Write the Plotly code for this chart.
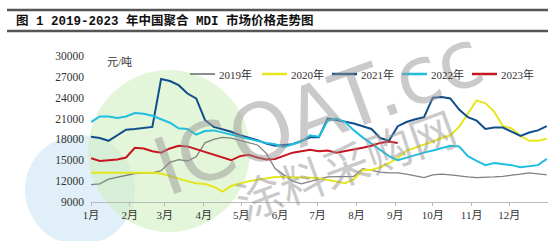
import plotly.graph_objects as go

days = list(range(0, 365, 7))  # day of year, weekly

y2019 = [11500, 11600, 12300, 12600, 12900, 13100, 13200, 13200, 13500, 14700,
         15100, 14900, 15500, 17500, 18000, 18300, 18200, 17900, 17600, 17200,
         16000, 13800, 12900, 12000, 11600, 12000, 12300, 12600, 12600, 12600,
         12700, 13800, 13500, 13300, 13200, 13200, 13000, 12700, 12500, 12900,
         13000, 12900, 12700, 12600, 12500, 12500, 12600, 12700, 12800, 13000,
         13200, 13000, 12900]
y2020 = [13200, 13200, 13200, 13200, 13200, 13200, 13300, 13200, 13100, 12700,
         12300, 12000, 11700, 11600, 11200, 10500, 11300, 11700, 12000, 12200,
         12400, 12600, 12600, 12600, 12500, 12500, 12400, 12200, 11900, 11700,
         12300, 13600, 13600, 14000, 14600, 15300, 16400, 16800, 17200, 17700,
         18200, 18600, 19800, 21800, 23600, 23200, 22000, 19900, 19600, 18500,
         17800, 17800, 18100]
y2021 = [18400, 18200, 17800, 18600, 19400, 19500, 19700, 19800, 26700, 26400,
         25800, 24600, 23900, 20800, 19800, 19500, 19100, 18600, 18300, 17900,
         17400, 17100, 17200, 17300, 17800, 18300, 18300, 21000, 20800, 20600,
         20300, 19900, 19500, 18200, 17800, 19900, 20500, 20900, 21200, 24000,
         24100, 23900, 22300, 21200, 20700, 19500, 19700, 19700, 19100, 18500,
         19000, 19300, 19900]
y2022 = [20500, 21300, 21300, 21100, 21300, 21800, 21700, 21400, 20900, 20400,
         19600, 19500, 18700, 19200, 19300, 19000, 18700, 18400, 18000, 17800,
         17500, 17300, 16900, 17300, 17700, 18600, 18400, 20700, 21000, 20500,
         19300, 18300, 17400, 16500, 15600, 15000, 15400, 15800, 16100, 16400,
         16700, 17100, 17000, 15600, 14900, 14300, 14600, 14500, 14300, 14000,
         14100, 14300, 15200]
y2023 = [15300, 14900, 15000, 15100, 15400, 16800, 16700, 16300, 16100, 16700,
         17100, 17000, 16600, 16200, 15700, 15300, 15000, 15600, 15800, 15400,
         15100, 15200, 15700, 16100, 16300, 16500, 16300, 16400, 16100, 16300,
         16500, 16800, 17100, 17500, 17700, 17500]

month_days = [0, 31, 59, 90, 120, 151, 181, 212, 243, 273, 304, 334]
month_labels = ["1月", "2月", "3月", "4月", "5月", "6月", "7月", "8月", "9月", "10月", "11月", "12月"]
y_ticks = [9000, 12000, 15000, 18000, 21000, 24000, 27000, 30000]
y_tick_labels = ["9000", "12000", "15000", "18000", "21000", "24000", "27000", "30000"]

series = [
    ("2019年", y2019, "#808080", 1.3),
    ("2020年", y2020, "#E6E61E", 2),
    ("2021年", y2021, "#104E8B", 2),
    ("2022年", y2022, "#20BFE0", 2),
    ("2023年", y2023, "#C8141E", 2),
]

fig = go.Figure()
for name, vals, color, w in series:
    fig.add_trace(go.Scatter(x=days[:len(vals)], y=vals, mode="lines", name=name,
                             line=dict(color=color, width=w), showlegend=False))

W, H = 555, 241
L, R, T, B = 91, 7, 56, 39
pw, ph = W - L - R, H - T - B


def px(x):
    return (x - L) / pw


def py(y):
    return (H - B - y) / ph


shapes = [
    dict(type="circle", xref="paper", yref="paper", layer="below",
         x0=px(25), x1=px(135), y0=py(245), y1=py(135),
         fillcolor="rgba(200,228,242,0.55)", line=dict(width=0)),
    dict(type="circle", xref="paper", yref="paper", layer="below",
         x0=px(88), x1=px(250), y0=py(232), y1=py(70),
         fillcolor="rgba(205,238,185,0.55)", line=dict(width=0)),
    dict(type="line", xref="paper", yref="paper", x0=px(7), x1=px(548),
         y0=py(10), y1=py(10), line=dict(color="#555555", width=2.5)),
    dict(type="line", xref="paper", yref="paper", x0=px(7), x1=px(548),
         y0=py(31), y1=py(31), line=dict(color="#555555", width=2.5)),
]

annotations = [
    dict(text="<b>图 1 2019-2023 年中国聚合 MDI 市场价格走势图</b>", xref="paper", yref="paper",
         x=px(14), y=py(21), xanchor="left", yanchor="middle", showarrow=False,
         font=dict(family="Liberation Mono, Noto Sans CJK SC", size=12.5, color="#111111")),
    dict(text="元/吨", xref="paper", yref="paper", x=px(105), y=py(62),
         xanchor="left", yanchor="middle", showarrow=False,
         font=dict(family="Liberation Serif, Noto Sans CJK SC", size=11, color="#333333")),
    dict(text="ICOAT.cc", xref="paper", yref="paper", x=px(318), y=py(112),
         xanchor="center", yanchor="middle", showarrow=False, textangle=-20,
         font=dict(family="DejaVu Sans", size=80, color="rgba(150,150,150,0.5)")),
    dict(text="涂料采购网", xref="paper", yref="paper", x=px(345), y=py(163),
         xanchor="center", yanchor="middle", showarrow=False, textangle=-20,
         font=dict(family="Noto Sans CJK SC", size=46, color="rgba(150,150,150,0.5)")),
]

# custom legend row
leg_starts = [190, 262, 332, 402, 472]
leg_y = 74
for (name, _, color, w), x0 in zip(series, leg_starts):
    shapes.append(dict(type="line", xref="paper", yref="paper",
                       x0=px(x0), x1=px(x0 + 25), y0=py(leg_y), y1=py(leg_y),
                       line=dict(color=color, width=w + 0.5)))
    annotations.append(dict(text=name, xref="paper", yref="paper", x=px(x0 + 27), y=py(leg_y),
                            xanchor="left", yanchor="middle", showarrow=False,
                            font=dict(family="Liberation Serif, Noto Sans CJK SC", size=11,
                                      color="#333333")))

fig.update_layout(
    width=W, height=H,
    margin=dict(l=L, r=R, t=T, b=B),
    paper_bgcolor="white", plot_bgcolor="rgba(0,0,0,0)",
    showlegend=False,
    shapes=shapes,
    annotations=annotations,
    xaxis=dict(range=[0, 365], tickmode="array", tickvals=month_days, ticktext=month_labels,
               showgrid=False, zeroline=False, showline=True, linecolor="#BBBBBB", linewidth=1,
               ticks="outside", ticklen=3, tickcolor="#BBBBBB",
               tickfont=dict(family="Liberation Serif, Noto Sans CJK SC", size=11, color="#333333")),
    yaxis=dict(range=[9000, 30000], tickmode="array", tickvals=y_ticks, ticktext=y_tick_labels,
               showgrid=False, zeroline=False, showline=False, ticks="",
               ticklabelstandoff=6,
               tickfont=dict(family="Liberation Serif", size=11.5, color="#333333")),
)

fig.write_html("out.html")
